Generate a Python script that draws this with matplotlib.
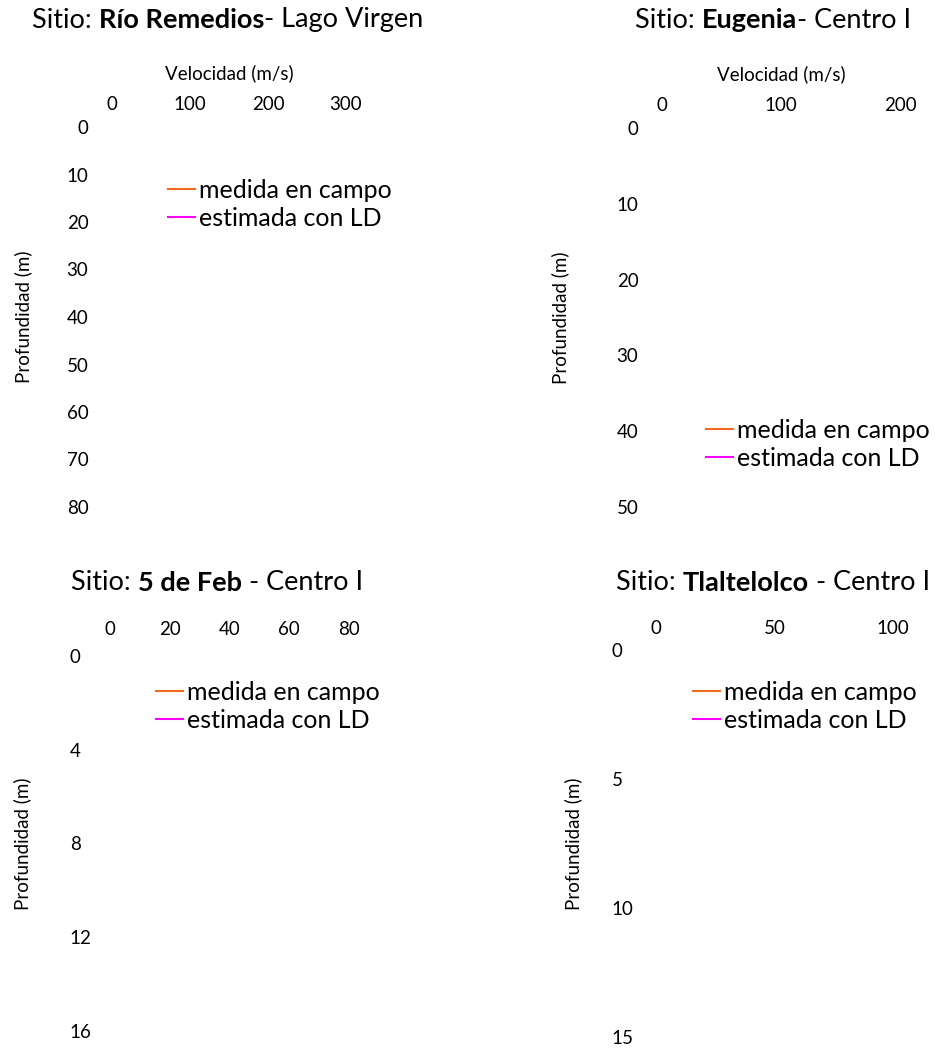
import matplotlib
matplotlib.use("Agg")
import matplotlib.pyplot as plt

plt.rcParams['font.family'] = ['Lato', 'DejaVu Sans']

W, H = 935, 1048
DPI = 100

# ---- data (no visible measurements in the reference: empty series) ----
series_labels = ["medida en campo", "estimada con LD"]
series_colors = ["#F26A1B", "#FF00FF"]

titles_bold = ["Río Remedios", "Eugenia", "5 de Feb", "Tlaltelolco"]
titles_pre = ["Sitio: ", "Sitio: ", "Sitio: ", "Sitio: "]
titles_post = ["- Lago Virgen", "- Centro I", " - Centro I", " - Centro I"]

x_ticks_1 = [0, 100, 200, 300]
y_ticks_1 = [0, 10, 20, 30, 40, 50, 60, 70, 80]
x_ticks_2 = [0, 100, 200]
y_ticks_2 = [0, 10, 20, 30, 40, 50]
x_ticks_3 = [0, 20, 40, 60, 80]
y_ticks_3 = [0, 4, 8, 12, 16]
x_ticks_4 = [0, 50, 100]
y_ticks_4 = [0, 5, 10, 15]

measured_1, estimated_1 = ([], []), ([], [])
measured_2, estimated_2 = ([], []), ([], [])
measured_3, estimated_3 = ([], []), ([], [])
measured_4, estimated_4 = ([], []), ([], [])

fig = plt.figure(figsize=(W / DPI, H / DPI), dpi=DPI)


def px_axes(left, top, right, bottom):
    return fig.add_axes([left / W, 1 - bottom / H, (right - left) / W, (bottom - top) / H])


panels = [
    dict(box=(112, 127, 346, 507), xt=x_ticks_1, yt=y_ticks_1, data=(measured_1, estimated_1),
         vel=True, yha='right', ypad=17, xpad=10, title_xy=(228, 20),
         leg=(168, 179), ylab_x=23),
    dict(box=(662, 128, 900, 507), xt=x_ticks_2, yt=y_ticks_2, data=(measured_2, estimated_2),
         vel=True, yha='right', ypad=17, xpad=10, title_xy=(773, 20),
         leg=(706, 419), ylab_x=560),
    dict(box=(110, 656, 349, 1031), xt=x_ticks_3, yt=y_ticks_3, data=(measured_3, estimated_3),
         vel=False, yha='left', ypad=29, xpad=13, title_xy=(217, 583),
         leg=(156, 681), ylab_x=22),
    dict(box=(656, 650, 893, 1037), xt=x_ticks_4, yt=y_ticks_4, data=(measured_4, estimated_4),
         vel=False, yha='left', ypad=32, xpad=9, title_xy=(773, 583),
         leg=(693, 681), ylab_x=573),
]

for i, p in enumerate(panels):
    ax = px_axes(*p['box'])
    (mx, my), (ex, ey) = p['data']
    ax.plot(mx, my, color=series_colors[0], lw=1.5, label=series_labels[0])
    ax.plot(ex, ey, color=series_colors[1], lw=1.5, label=series_labels[1])
    ax.set_xlim(p['xt'][0], p['xt'][-1])
    ax.set_ylim(p['yt'][-1], p['yt'][0])
    ax.set_xticks(p['xt'])
    ax.set_yticks(p['yt'])
    ax.xaxis.tick_top()
    for s in ax.spines.values():
        s.set_visible(False)
    ax.tick_params(axis='both', length=0, labelsize=13.5, colors='black')
    ax.tick_params(axis='x', pad=p['xpad'])
    ax.tick_params(axis='y', pad=p['ypad'])
    for lab in ax.get_yticklabels():
        lab.set_horizontalalignment(p['yha'])
    ax.set_facecolor('none')
    if p['vel']:
        ax.xaxis.set_label_position('top')
        ax.set_xlabel("Velocidad (m/s)", fontsize=13.5, labelpad=12)
    ax.set_ylabel("Profundidad (m)", fontsize=13.5)
    ax.yaxis.label.set_va('center')
    l, t, r, b = p['box']
    ax.yaxis.set_label_coords((p['ylab_x'] - l) / (r - l), 0.5)

    lx, ly = p['leg']
    ax.legend(loc='upper left', bbox_to_anchor=(lx / W, 1 - ly / H),
              bbox_transform=fig.transFigure, frameon=False, fontsize=18,
              handlelength=1.08, handletextpad=0.16, labelspacing=0.18,
              borderpad=0, borderaxespad=0)

    # title with bold middle part
    tx, ty = p['title_xy']
    parts = [(titles_pre[i], 'normal'), (titles_bold[i], 'bold'), (titles_post[i], 'normal')]
    texts = []
    for s, wgt in parts:
        t_ = fig.text(0, 1 - ty / H, s, fontsize=19.5, fontweight=wgt, va='center', ha='left')
        texts.append(t_)
    fig.canvas.draw()
    renderer = fig.canvas.get_renderer()
    widths = [t_.get_window_extent(renderer).width for t_ in texts]
    total = sum(widths)
    x0 = tx - total / 2
    for t_, w_ in zip(texts, widths):
        t_.set_x(x0 / W)
        x0 += w_

fig.savefig("out.png", dpi=DPI)
